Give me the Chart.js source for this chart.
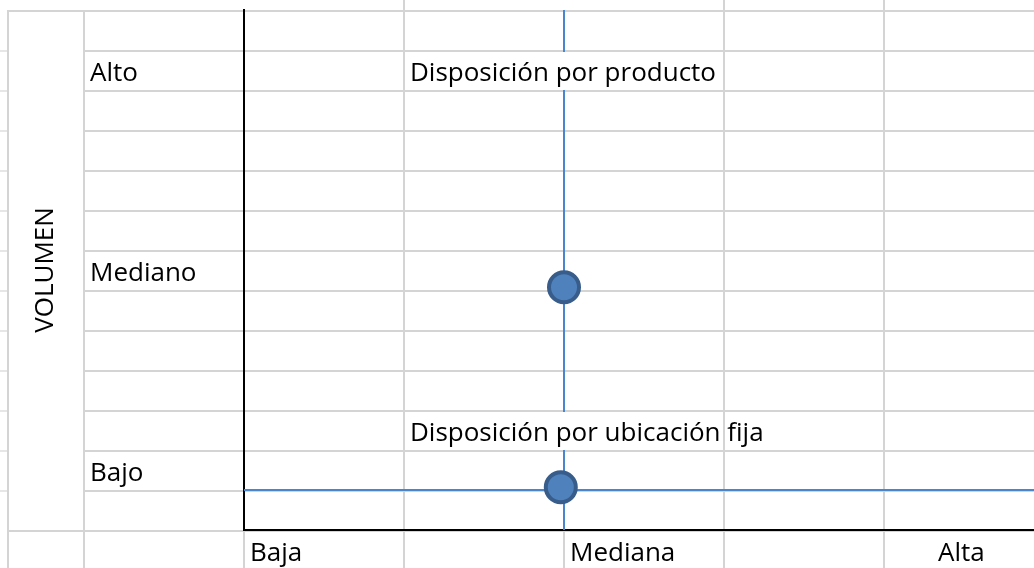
<!DOCTYPE html>
<html>
<head>
<meta charset="utf-8">
<script src="https://cdn.jsdelivr.net/npm/chart.js@4.4.1/dist/chart.umd.min.js"></script>
<style>
    html, body { margin: 0; padding: 0; overflow: hidden; background: #fff; }
    #sheet { position: absolute; left: 0; top: 0; width: 1034px; height: 568px; }
    #sheet div { position: absolute; }
    #myChart { position: absolute; left: 0; top: 0; }
</style>
</head>
<body>
<div id="sheet"></div>
<canvas id="myChart" width="1044" height="568"></canvas>
<script>
// datos
const yLabels = ['Bajo', 'Mediano', 'Alto'];
const yTickValues = [1, 6, 11];
const xLabels = ['Baja', 'Mediana', 'Alta'];
const xTickValues = [0, 2, 4.3];
const pointsX = [2, 1.98];
const pointsY = [6.07, 1.07];
const vLineX = [2, 2];
const vLineY = [0, 13];
const hLineX = [0, 5];
const hLineY = [1, 1];
const noteTexts = ['Disposición por producto', 'Disposición por ubicación fija'];
const noteX = [1, 1];
const noteY = [11, 2];
const axisTitle = 'VOLUMEN';

const fontFamily = '"Open Sans"';
const fontSize = 26;

// cuadrícula de la hoja de cálculo (fondo)
let sheet = document.getElementById('sheet');
function addLine(x, y, w, h, color) {
    let d = document.createElement('div');
    d.style.left = x + 'px';
    d.style.top = y + 'px';
    d.style.width = w + 'px';
    d.style.height = h + 'px';
    d.style.background = color || '#d4d4d4';
    sheet.appendChild(d);
}
const colLeft = [7, 83, 243, 403, 563, 723, 883];
for (let x of colLeft) {
    let top = [403, 723, 883].includes(x) ? 0 : 10;
    addLine(x, top, 2, 568 - top);
}
for (let k = 0; k <= 13; k++) {
    let y = 10 + 40 * k;
    if (k === 0 || k === 13) {
        addLine(7, y, 1034 - 7, 2);
    } else {
        addLine(0, y, 7, 2, '#e6e6e6');
        addLine(83, y, 1034 - 83, 2);
    }
}

Chart.defaults.font.family = fontFamily;
Chart.defaults.font.size = fontSize;
Chart.defaults.color = '#000';

const ctx = document.getElementById('myChart').getContext('2d');

// cuadros de texto con fondo blanco
const notesPlugin = {
    id: 'notes',
    afterDatasetsDraw(chart) {
        const {ctx, scales: {x, y}} = chart;
        ctx.save();
        ctx.font = fontSize + 'px ' + fontFamily;
        ctx.textAlign = 'left';
        ctx.textBaseline = 'alphabetic';
        noteTexts.forEach((text, i) => {
            let left = x.getPixelForValue(noteX[i]);
            let right = x.getPixelForValue(noteX[i] + 2);
            let bottom = y.getPixelForValue(noteY[i]);
            let top = y.getPixelForValue(noteY[i] + 1);
            ctx.fillStyle = '#fff';
            ctx.fillRect(left + 1, top + 2, right - left - 2, bottom - top - 2);
            ctx.fillStyle = '#000';
            ctx.fillText(text, left + 6, bottom - 9);
        });
        ctx.restore();
    }
};

function noPadding(s) {
    s.paddingTop = 0;
    s.paddingBottom = 0;
    s.paddingLeft = 0;
    s.paddingRight = 0;
}

const data = {
    datasets: [
        {
            data: pointsX.map((v, i) => ({x: v, y: pointsY[i]})),
            backgroundColor: '#4F81BD',
            borderColor: '#385D8A',
            pointRadius: 15,
            pointBorderWidth: 4,
            showLine: false,
        },
        {
            data: vLineX.map((v, i) => ({x: v, y: vLineY[i]})),
            borderColor: '#4a86cf',
            borderWidth: 2,
            pointRadius: 0,
            showLine: true,
            fill: false,
        },
        {
            data: hLineX.map((v, i) => ({x: v, y: hLineY[i]})),
            borderColor: '#4a86cf',
            borderWidth: 2,
            pointRadius: 0,
            showLine: true,
            fill: false,
        },
    ]
};

const options = {
    responsive: false,
    animation: false,
    devicePixelRatio: 1,
    layout: { autoPadding: false, padding: { top: 10, left: 0, right: 0, bottom: 0 } },
    plugins: {
        legend: { display: false },
        tooltip: { enabled: false },
    },
    scales: {
        x: {
            type: 'linear',
            position: 'bottom',
            min: 0,
            max: 5,
            grid: { display: false, drawTicks: false },
            border: { display: true, color: '#000', width: 2 },
            afterBuildTicks: (s) => { s.ticks = xTickValues.map(v => ({value: v})); },
            afterFit: (s) => { s.height = 38; noPadding(s); },
            ticks: {
                autoSkip: false,
                maxRotation: 0,
                align: 'start',
                labelOffset: 6,
                padding: 8,
                callback: (v, i) => xLabels[i],
            }
        },
        y: {
            type: 'linear',
            position: 'left',
            weight: 0,
            min: 0,
            max: 13,
            grid: { display: false, drawTicks: false },
            border: { display: true, color: '#000', width: 2 },
            afterBuildTicks: (s) => { s.ticks = yTickValues.map(v => ({value: v})); },
            afterFit: (s) => { s.width = 154; noPadding(s); },
            ticks: {
                autoSkip: false,
                crossAlign: 'far',
                labelOffset: -16,
                callback: (v, i) => yLabels[i],
            }
        },
        yTitle: {
            type: 'linear',
            position: 'left',
            weight: 1,
            min: 0,
            max: 1,
            grid: { display: false, drawTicks: false },
            border: { display: false },
            ticks: { display: false },
            afterFit: (s) => { s.width = 90; noPadding(s); },
            title: {
                display: true,
                text: axisTitle,
                padding: { top: 30, bottom: 0 },
            }
        }
    }
};

const chart = new Chart(ctx, {
    type: 'scatter',
    data: data,
    options: options,
    plugins: [notesPlugin],
});
</script>
</body>
</html>
